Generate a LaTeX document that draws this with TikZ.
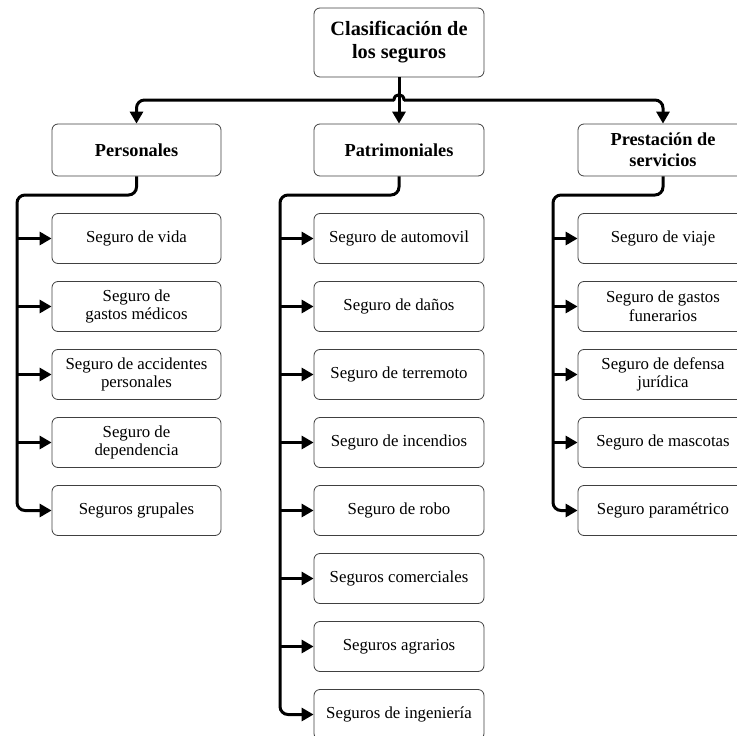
\documentclass[tikz,border=0pt]{standalone}
\usepackage{fontspec}
\setmainfont{Liberation Serif}
\usetikzlibrary{arrows.meta}
\tikzset{
  box/.style={draw=black!75, line width=0.8pt, rounded corners=6pt, fill=white,
    align=center, inner sep=2pt, font=\fontsize{16.8}{18.5}\selectfont,
    minimum height=50pt},
  headbox/.style={box, minimum height=52pt, font=\fontsize{18.3}{21}\selectfont\bfseries},
  rootbox/.style={box, minimum height=69pt, minimum width=170pt, font=\fontsize{20.3}{23}\selectfont\bfseries},
  conn/.style={line width=3pt, -{Triangle[length=12pt,width=13pt]}},
  plainconn/.style={line width=3pt, line cap=round},
}
\begin{document}
\begin{tikzpicture}[x=1pt,y=-1pt]
\useasboundingbox (0,0) rectangle (737,736);
\clip (0,0) rectangle (737,736);
% root
\node[rootbox] (root) at (399,42.5) {Clasificación de\\los seguros};
% level 1
\node[headbox, minimum width=169pt] (pers) at (136.5,150) {Personales};
\node[headbox, minimum width=170pt] (patr) at (399,150) {Patrimoniales};
\node[headbox, minimum width=170pt] (pres) at (663,150) {Prestación de\\servicios};
% left column
\node[box, minimum width=169pt] (a1) at (136.5,238.5) {Seguro de vida};
\node[box, minimum width=169pt] (a2) at (136.5,306.5) {Seguro de\\gastos médicos};
\node[box, minimum width=169pt] (a3) at (136.5,374.5) {Seguro de accidentes\\personales};
\node[box, minimum width=169pt] (a4) at (136.5,442.5) {Seguro de\\dependencia};
\node[box, minimum width=169pt] (a5) at (136.5,510.5) {Seguros grupales};
% middle column
\node[box, minimum width=170pt] (b1) at (399,238.5) {Seguro de automovil};
\node[box, minimum width=170pt] (b2) at (399,306.5) {Seguro de daños};
\node[box, minimum width=170pt] (b3) at (399,374.5) {Seguro de terremoto};
\node[box, minimum width=170pt] (b4) at (399,442.5) {Seguro de incendios};
\node[box, minimum width=170pt] (b5) at (399,510.5) {Seguro de robo};
\node[box, minimum width=170pt] (b6) at (399,578.5) {Seguros comerciales};
\node[box, minimum width=170pt] (b7) at (399,646.5) {Seguros agrarios};
\node[box, minimum width=170pt] (b8) at (399,714.5) {Seguros de ingeniería};
% right column
\node[box, minimum width=170pt] (c1) at (663,238.5) {Seguro de viaje};
\node[box, minimum width=170pt] (c2) at (663,306.5) {Seguro de gastos\\funerarios};
\node[box, minimum width=170pt] (c3) at (663,374.5) {Seguro de defensa\\jurídica};
\node[box, minimum width=170pt] (c4) at (663,442.5) {Seguro de mascotas};
\node[box, minimum width=170pt] (c5) at (663,510.5) {Seguro paramétrico};
% top connectors
\coordinate (hopL) at (394,100);
\coordinate (hopR) at (404,100);
\draw[conn] (root.south) -- (patr.north);
\draw[conn, rounded corners=8pt] (hopL) -| (pers.north);
\draw[conn, rounded corners=8pt] (hopR) -| (pres.north);
\draw[plainconn] (hopL) .. controls (394,93) and (404,93) .. (hopR);
% trunks
\coordinate (tA) at (17,195);
\coordinate (tB) at (280,195);
\coordinate (tC) at (553,195);
\draw[conn, rounded corners=8pt] (pers.south) |- (tA) |- (a5.west);
\draw[conn, rounded corners=8pt] (patr.south) |- (tB) |- (b8.west);
\draw[conn, rounded corners=8pt] (pres.south) |- (tC) |- (c5.west);
\foreach \n in {a1,a2,a3,a4} \draw[conn] (\n.west -| tA) -- (\n.west);
\foreach \n in {b1,b2,b3,b4,b5,b6,b7} \draw[conn] (\n.west -| tB) -- (\n.west);
\foreach \n in {c1,c2,c3,c4} \draw[conn] (\n.west -| tC) -- (\n.west);
\end{tikzpicture}
\end{document}
